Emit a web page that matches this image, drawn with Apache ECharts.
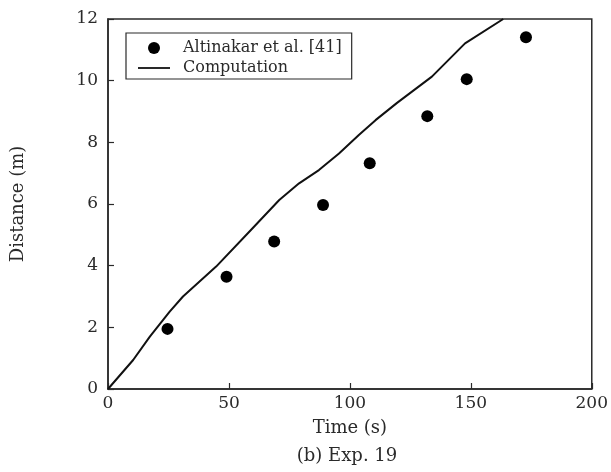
<!DOCTYPE html>
<html>
<head>
<meta charset="utf-8">
<script src="https://cdn.jsdelivr.net/npm/echarts@6/dist/echarts.min.js"></script>
<style>
  html, body { margin: 0; padding: 0; background: #fff; }
  #chart { width: 611px; height: 472px; }
</style>
</head>
<body>
<div id="chart"></div>
<script>
// measured points (Altinakar et al. [41])
const measTime = [24.6, 49, 68.7, 88.9, 108.2, 132, 148.3, 172.8];
const measDist = [1.95, 3.64, 4.78, 5.97, 7.32, 8.85, 10.05, 11.41];

// computed front position
const compTime = [0, 10.4, 17.3, 25.5, 31, 44.7, 58.4, 70.8, 79, 87.2, 95.5, 103.7, 110.6, 119.5, 133.9, 147.6, 163.4];
const compDist = [0, 0.94, 1.7, 2.51, 3.0, 3.97, 5.1, 6.13, 6.67, 7.1, 7.64, 8.24, 8.72, 9.28, 10.13, 11.21, 12];

const font = "'DejaVu Serif', 'Liberation Serif', serif";
const ink = "#2a2a2a";

const chart = echarts.init(document.getElementById("chart"));

const option = {
  animation: false,
  title: {
    text: "(b) Exp. 19",
    left: 342,
    textAlign: "center",
    top: 442,
    textStyle: { fontFamily: font, fontSize: 18, fontWeight: "normal", color: ink },
  },
  legend: {
    orient: "vertical",
    left: 126,
    top: 33,
    itemGap: 0,
    itemWidth: 32,
    itemHeight: 12,
    padding: [5, 10, 1, 12],
    borderColor: ink,
    borderWidth: 1.2,
    borderRadius: 0,
    textStyle: { fontFamily: font, fontSize: 16, color: ink, lineHeight: 20, padding: [0, 0, 0, 8] },
    data: [
      { name: "Altinakar et al. [41]", icon: "circle" },
      { name: "Computation", icon: "path://M0,0 L32,0 L32,1.8 L0,1.8 Z" },
    ],
  },
  grid: {
    left: 108,
    right: 15,
    top: 19,
    bottom: 83,
    show: true,
    borderColor: ink,
    borderWidth: 1.5,
  },
  xAxis: {
    type: "value",
    min: 0,
    max: 200,
    interval: 50,
    name: "Time (s)",
    nameLocation: "middle",
    nameGap: 30,
    nameTextStyle: { fontFamily: font, fontSize: 18, color: ink },
    axisLine: { lineStyle: { color: ink, width: 1.5 } },
    axisTick: { inside: true, length: 6, lineStyle: { color: ink, width: 1.2 } },
    axisLabel: { fontFamily: font, fontSize: 17, color: ink, margin: 6 },
    splitLine: { show: false },
  },
  yAxis: {
    type: "value",
    min: 0,
    max: 12,
    interval: 2,
    name: "Distance (m)",
    nameLocation: "middle",
    nameGap: 81,
    nameTextStyle: { fontFamily: font, fontSize: 18, color: ink },
    axisLine: { lineStyle: { color: ink, width: 1.5 } },
    axisTick: { inside: true, length: 6, lineStyle: { color: ink, width: 1.2 } },
    axisLabel: { fontFamily: font, fontSize: 17, color: ink, margin: 10 },
    splitLine: { show: false },
  },
  series: [
    {
      name: "Altinakar et al. [41]",
      type: "scatter",
      symbol: "circle",
      symbolSize: 12,
      itemStyle: { color: "#000", opacity: 1 },
      data: measTime.map((t, i) => [t, measDist[i]]),
    },
    {
      name: "Computation",
      type: "line",
      symbol: "none",
      clip: true,
      lineStyle: { color: "#111", width: 2 },
      itemStyle: { color: "#111" },
      data: compTime.map((t, i) => [t, compDist[i]]),
    },
  ],
};

option && chart.setOption(option);
</script>
</body>
</html>
